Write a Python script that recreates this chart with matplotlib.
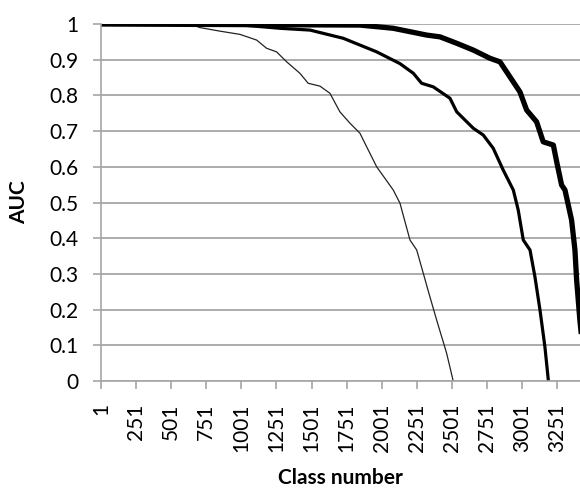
import numpy as np
import matplotlib
matplotlib.use("Agg")
import matplotlib.pyplot as plt

plt.rcParams['font.family'] = ['Lato', 'DejaVu Sans']

# values (class number, AUC)
thin_class = [1, 635, 706, 849, 991, 1110, 1181, 1252, 1324, 1418, 1477, 1561, 1632,
              1703, 1775, 1846, 1881, 1965, 2083, 2131, 2202, 2250, 2344, 2392, 2463, 2510]
thin_auc = [1.0, 1.0, 0.990, 0.980, 0.971, 0.955, 0.932, 0.922, 0.894, 0.862, 0.834, 0.826, 0.806,
            0.754, 0.722, 0.694, 0.666, 0.600, 0.535, 0.498, 0.395, 0.367, 0.236, 0.171, 0.078, 0.0]

mid_class = [1, 920, 1276, 1490, 1727, 1965, 2131, 2226, 2285, 2368, 2487, 2535, 2653,
             2724, 2795, 2866, 2938, 2973, 3009, 3057, 3092, 3128, 3163, 3188]
mid_auc = [1.0, 1.0, 0.988, 0.983, 0.960, 0.922, 0.889, 0.862, 0.834, 0.824, 0.792, 0.754, 0.708,
           0.689, 0.652, 0.591, 0.535, 0.479, 0.395, 0.367, 0.292, 0.199, 0.096, 0.0]

thick_class = [1, 1846, 2083, 2321, 2416, 2535, 2653, 2772, 2843, 2914, 2985, 3033, 3104,
               3151, 3223, 3247, 3282, 3306, 3353, 3377, 3389, 3412, 3425]
thick_auc = [1.0, 0.997, 0.988, 0.969, 0.964, 0.946, 0.927, 0.904, 0.894, 0.852, 0.810, 0.759, 0.726,
             0.670, 0.661, 0.614, 0.549, 0.535, 0.451, 0.367, 0.283, 0.171, 0.12]

xticks = list(range(1, 3252, 250))
yticks = [0, 0.1, 0.2, 0.3, 0.4, 0.5, 0.6, 0.7, 0.8, 0.9, 1]

fig = plt.figure(figsize=(5.8, 4.9), dpi=100)
ax = fig.add_axes([0.174, 0.2224, 0.826, 0.7286])

ax.plot(thin_class, thin_auc, color='#222222', lw=0.9, solid_joinstyle='round')
ax.plot(mid_class, mid_auc, color='black', lw=2.3, solid_joinstyle='round')
ax.plot(thick_class, thick_auc, color='black', lw=3.8, solid_joinstyle='round')

ax.set_xlim(1, 3413)
ax.set_ylim(0, 1)
ax.set_xticks(xticks)
ax.set_xticklabels([str(v) for v in xticks], rotation=90, va='top', ha='center')
ax.set_yticks(yticks)
ax.set_yticklabels(['0', '0.1', '0.2', '0.3', '0.4', '0.5', '0.6', '0.7', '0.8', '0.9', '1'])

ax.grid(axis='y', color='#a6a6a6', lw=1.3)
ax.set_axisbelow(True)
for s in ['top', 'right']:
    ax.spines[s].set_visible(False)
for s in ['left', 'bottom']:
    ax.spines[s].set_color('#a6a6a6')
    ax.spines[s].set_linewidth(1.2)
ax.tick_params(axis='both', colors='#a6a6a6', length=6, width=1.2, labelcolor='black', labelsize=15)
ax.tick_params(axis='x', pad=10)
ax.tick_params(axis='y', pad=10)

ax.set_xlabel('Class number', fontsize=15, fontweight='bold')
ax.set_ylabel('AUC', fontsize=15, fontweight='bold')
ax.xaxis.set_label_coords(0.5, -0.243)
ax.yaxis.set_label_coords(-0.15, 0.5)

fig.savefig('out.png', dpi=100)
